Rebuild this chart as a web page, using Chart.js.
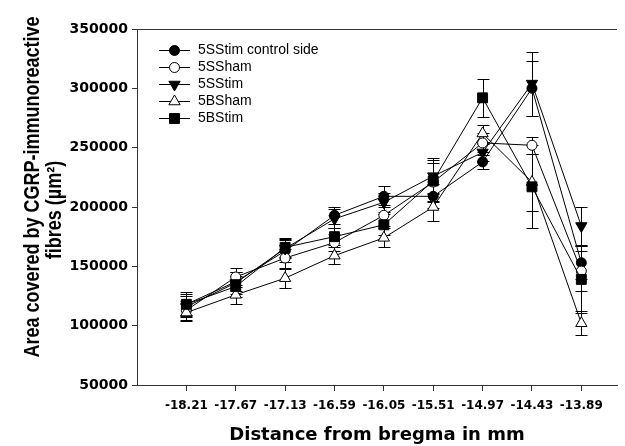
<!DOCTYPE html>
<html lang="en">
  <head>
    <meta charset="UTF-8" />
    <title>CGRP-immunoreactive fibres vs distance from bregma</title>
  </head>
  <style>
    * {
      margin: 0;
      padding: 0;
    }
    body {
      background: white;
    }
  </style>
  <body>
    <canvas id="myChart" width="625" height="446"></canvas>

    <script src="https://cdn.jsdelivr.net/npm/chart.js"></script>

    <script>
      // data block
      const positions = [-18.21, -17.67, -17.13, -16.59, -16.05, -15.51, -14.97, -14.43, -13.89];
      const seriesNames = ["5SStim control side", "5SSham", "5SStim", "5BSham", "5BStim"];

      const controlSide = [118000, 137000, 163000, 193000, 209000, 209000, 238000, 300000, 153000];
      const controlSideErr = [9000, 8000, 9000, 7000, 9000, 10000, 6000, 23000, 14000];
      const sham5S = [113000, 141000, 157000, 170000, 193000, 221000, 254000, 252000, 146000];
      const sham5SErr = [8000, 8000, 8000, 7000, 9000, 16000, 8000, 7000, 17000];
      const stim5S = [116000, 136000, 165000, 190000, 204000, 226000, 246000, 304000, 184000];
      const stim5SErr = [9000, 9000, 8000, 8000, 8000, 15000, 7000, 27000, 16000];
      const sham5B = [111000, 126000, 140000, 159000, 174000, 200000, 262000, 221000, 102000];
      const sham5BErr = [7000, 8000, 8000, 7000, 8000, 12000, 7000, 24000, 10000];
      const stim5B = [118000, 133000, 166000, 175000, 185000, 222000, 292000, 217000, 139000];
      const stim5BErr = [10000, 9000, 8000, 7000, 9000, 18000, 16000, 35000, 28000];

      const yTitle = ["Area covered by CGRP-immunoreactive", "fibres (\u00b5m\u00b2)"];

      const values = [controlSide, sham5S, stim5S, sham5B, stim5B];
      const errors = [controlSideErr, sham5SErr, stim5SErr, sham5BErr, stim5BErr];
      const markers = [
        { style: "circle", fill: "#000", radius: 5, rotation: 0 },
        { style: "circle", fill: "#fff", radius: 5, rotation: 0 },
        { style: "triangle", fill: "#000", radius: 6.5, rotation: 180 },
        { style: "triangle", fill: "#fff", radius: 6.5, rotation: 0 },
        { style: "rect", fill: "#000", radius: 7, rotation: 0 }
      ];

      // later series are drawn on top, as in the original plot
      const datasets = seriesNames.map((name, i) => ({
        label: name,
        data: positions.map((x, j) => ({ x: x, y: values[i][j] })),
        errors: errors[i],
        order: seriesNames.length - i,
        borderColor: "#000",
        borderWidth: 1,
        fill: false,
        tension: 0,
        pointStyle: markers[i].style,
        pointRadius: markers[i].radius,
        pointRotation: markers[i].rotation,
        pointBackgroundColor: markers[i].fill,
        pointBorderColor: "#000",
        pointBorderWidth: 1
      }));

      // error bars drawn under the markers
      const errorBars = {
        id: "errorBars",
        beforeDatasetsDraw(chart) {
          const { ctx, scales: { x, y } } = chart;
          ctx.save();
          ctx.strokeStyle = "#000";
          ctx.lineWidth = 1;
          chart.data.datasets.forEach((ds) => {
            ds.data.forEach((p, j) => {
              const e = ds.errors[j];
              const px = Math.round(x.getPixelForValue(p.x)) + 0.5;
              const top = Math.round(y.getPixelForValue(p.y + e)) + 0.5;
              const bot = Math.round(y.getPixelForValue(p.y - e)) + 0.5;
              ctx.beginPath();
              ctx.moveTo(px, top);
              ctx.lineTo(px, bot);
              ctx.moveTo(px - 6, top);
              ctx.lineTo(px + 6, top);
              ctx.moveTo(px - 6, bot);
              ctx.lineTo(px + 6, bot);
              ctx.stroke();
            });
          });
          ctx.restore();
        }
      };

      // legend with line + marker samples, and the two-line y title
      const extras = {
        id: "extras",
        afterDraw(chart) {
          const { ctx } = chart;
          ctx.save();
          chart.data.datasets.forEach((ds, i) => {
            const rowY = 50.5 + i * 17;
            ctx.strokeStyle = "#000";
            ctx.lineWidth = 1;
            ctx.beginPath();
            ctx.moveTo(159, rowY);
            ctx.lineTo(190, rowY);
            ctx.stroke();
            ctx.fillStyle = ds.pointBackgroundColor;
            ctx.strokeStyle = "#000";
            Chart.helpers.drawPoint(ctx, {
              pointStyle: ds.pointStyle,
              radius: ds.pointRadius,
              rotation: ds.pointRotation,
              borderWidth: 1
            }, 174.5, rowY);
            ctx.fillStyle = "#000";
            ctx.font = "14px 'Liberation Sans', Arial";
            ctx.textAlign = "left";
            ctx.textBaseline = "middle";
            ctx.fillText(ds.label, 198, rowY);
          });

          // the source picture is a little wider than tall, so stretch the glyphs
          ctx.font = "bold 18px 'Liberation Sans', Arial";
          ctx.textAlign = "center";
          ctx.textBaseline = "middle";
          ctx.fillStyle = "#000";
          [[33, 187], [55, 210]].forEach(([cx, cy], k) => {
            ctx.save();
            ctx.translate(cx, cy);
            ctx.rotate(-Math.PI / 2);
            ctx.scale(1, 1.18);
            ctx.fillText(yTitle[k], 0, 0);
            ctx.restore();
          });
          ctx.restore();
        }
      };

      const tickFont = { family: "'DejaVu Sans'", weight: "bold" };

      // config block
      const config = {
        type: "line",
        data: { datasets },
        options: {
          responsive: false,
          animation: false,
          layout: { padding: { top: 29, right: 8, left: 0, bottom: 0 } },
          plugins: {
            legend: { display: false },
            tooltip: { enabled: false }
          },
          scales: {
            x: {
              type: "linear",
              min: -18.75,
              max: -13.5,
              afterBuildTicks: (s) => {
                s.ticks = positions.map((v) => ({ value: v }));
              },
              afterFit: (s) => {
                s.height = 61;
              },
              grid: { drawOnChartArea: false, color: "#333", tickColor: "#333", tickLength: 6 },
              border: { color: "#333", width: 1 },
              ticks: {
                color: "#000",
                font: { ...tickFont, size: 12 },
                padding: 8,
                autoSkip: false,
                maxRotation: 0,
                callback: (v) => v.toFixed(2)
              },
              title: {
                display: true,
                text: "Distance from bregma in mm",
                color: "#000",
                font: { family: "'DejaVu Sans'", weight: "bold", size: 18 },
                padding: { top: 0, bottom: 0 }
              }
            },
            y: {
              min: 50000,
              max: 350000,
              afterFit: (s) => {
                s.width = 137;
              },
              grid: {
                color: (c) => (c.tick && c.tick.value === 350000 ? "#333" : "transparent"),
                tickColor: "#333",
                tickLength: 5
              },
              border: { color: "#333", width: 1 },
              ticks: {
                stepSize: 50000,
                color: "#000",
                font: { ...tickFont, size: 14 },
                padding: 4,
                callback: (v) => String(v)
              }
            }
          }
        },
        plugins: [errorBars, extras]
      };

      // init render block
      const myChart = new Chart(document.getElementById("myChart"), config);
    </script>
  </body>
</html>
